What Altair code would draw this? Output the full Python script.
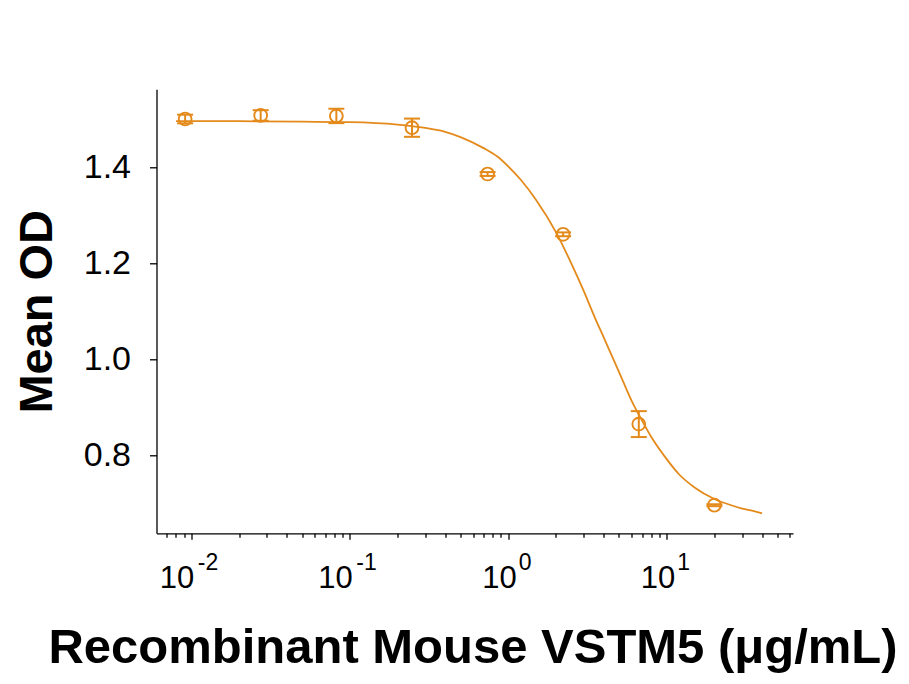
import altair as alt
import pandas as pd

# Measured points (3-fold dilution series)
conc = [0.00914, 0.0274, 0.0823, 0.247, 0.741, 2.22, 6.67, 20.0]
mean_od = [1.5006, 1.508, 1.507, 1.4825, 1.386, 1.2604, 0.865, 0.696]
err_od = [0.009, 0.011, 0.015, 0.019, 0.004, 0.004, 0.027, 0.002]

# Fitted curve
fit_conc = [0.008, 0.01, 0.02, 0.05, 0.1, 0.2, 0.3, 0.4, 0.5, 0.7, 0.85, 1.0, 1.2, 1.5,
            2.0, 2.5, 3.0, 3.5, 4.0, 5.0, 6.0, 7.0, 8.0, 10.0, 12.0, 15.0, 20.0,
            25.0, 30.0, 35.0, 40.0]
fit_od = [1.496, 1.496, 1.496, 1.495, 1.494, 1.489, 1.482, 1.474, 1.463, 1.440, 1.423,
          1.402, 1.374, 1.332, 1.265, 1.200, 1.142, 1.089, 1.046, 0.974, 0.914, 0.872,
          0.838, 0.792, 0.760, 0.733, 0.709, 0.697, 0.689, 0.684, 0.679]

# Axis ticks / labels
major_ticks = [0.01, 0.1, 1, 10]
minor_ticks = [0.007, 0.008, 0.009,
               0.02, 0.03, 0.04, 0.05, 0.06, 0.07, 0.08, 0.09,
               0.2, 0.3, 0.4, 0.5, 0.6, 0.7, 0.8, 0.9,
               2, 3, 4, 5, 6, 7, 8, 9,
               20, 30, 40, 50, 60]
label_base = ["10", "10", "10", "10"]
label_exp = ["-2", "-1", "0", "1"]
label_power = [-2, -1, 0, 1]
y_ticks = [0.8, 1.0, 1.2, 1.4]

COLOR = "#E48A1B"
FONT = "Liberation Sans"

pts = pd.DataFrame({"conc": conc, "od": mean_od, "err": err_od})
fit = pd.DataFrame({"conc": fit_conc, "od": fit_od})
labels = pd.DataFrame({"conc": major_ticks, "base": label_base,
                       "exp": label_exp, "power": label_power})

xscale = alt.Scale(type="log", domain=[0.00603, 62.7], nice=False)
yscale = alt.Scale(domain=[0.6375, 1.5625], nice=False, zero=False)

major_test = "abs(log(datum.value)/LN10 - round(log(datum.value)/LN10)) < 0.001"

xaxis = alt.Axis(
    values=sorted(major_ticks + minor_ticks),
    labels=False,
    grid=False,
    tickSize={"condition": {"test": major_test, "value": 6}, "value": 4},
    tickColor="black", tickWidth=1.3,
    domainColor="black", domainWidth=1.3,
    title="Recombinant Mouse VSTM5 (μg/mL)",
    titleFont=FONT, titleFontSize=49, titleFontWeight="bold", titleColor="black",
    titleX=316, titleY=129, titleBaseline="alphabetic", titleAlign="center",
)
yaxis = alt.Axis(
    values=y_ticks, format=".1f", grid=False,
    tickSize=7, tickColor="black", tickWidth=1.3,
    domainColor="black", domainWidth=1.3,
    labelFont=FONT, labelFontSize=34, labelColor="black", labelPadding=19,
    title="Mean OD",
    titleFont=FONT, titleFontSize=47, titleFontWeight="bold", titleColor="black",
    titleX=-105, titleY=222, titleBaseline="alphabetic", titleAlign="center", titleAngle=-90,
)

base_pts = alt.Chart(pts)

curve = alt.Chart(fit).mark_line(color=COLOR, strokeWidth=1.8, interpolate="monotone").encode(
    x=alt.X("conc:Q", scale=xscale, axis=xaxis),
    y=alt.Y("od:Q", scale=yscale, axis=yaxis),
)

bars = base_pts.transform_calculate(
    lo="datum.od - datum.err", hi="datum.od + datum.err"
).mark_rule(color=COLOR, strokeWidth=2).encode(
    x=alt.X("conc:Q", scale=xscale),
    y=alt.Y("lo:Q", scale=yscale),
    y2="hi:Q",
)

caps_lo = base_pts.transform_calculate(v="datum.od - datum.err").mark_point(
    shape="M-1,0L1,0", size=256, stroke=COLOR, strokeWidth=2, filled=False, opacity=1
).encode(x=alt.X("conc:Q", scale=xscale), y=alt.Y("v:Q", scale=yscale))

caps_hi = base_pts.transform_calculate(v="datum.od + datum.err").mark_point(
    shape="M-1,0L1,0", size=256, stroke=COLOR, strokeWidth=2, filled=False, opacity=1
).encode(x=alt.X("conc:Q", scale=xscale), y=alt.Y("v:Q", scale=yscale))

circles = base_pts.mark_point(
    shape="circle", size=164, filled=False, stroke=COLOR, strokeWidth=1.9, opacity=1
).encode(x=alt.X("conc:Q", scale=xscale), y=alt.Y("od:Q", scale=yscale))

lab = alt.Chart(labels)
neg_base = lab.transform_filter("datum.power < 0").mark_text(
    align="right", baseline="alphabetic", dx=3, fontSize=31, font=FONT, color="black"
).encode(x=alt.X("conc:Q", scale=xscale), y=alt.value(498.7), text="base:N")
neg_exp = lab.transform_filter("datum.power < 0").mark_text(
    align="left", baseline="alphabetic", dx=6.5, fontSize=23, font=FONT, color="black"
).encode(x=alt.X("conc:Q", scale=xscale), y=alt.value(481.2), text="exp:N")
pos_base = lab.transform_filter("datum.power >= 0").mark_text(
    align="right", baseline="alphabetic", dx=8.5, fontSize=31, font=FONT, color="black"
).encode(x=alt.X("conc:Q", scale=xscale), y=alt.value(498.7), text="base:N")
pos_exp = lab.transform_filter("datum.power >= 0").mark_text(
    align="left", baseline="alphabetic", dx=10.5, fontSize=23, font=FONT, color="black"
).encode(x=alt.X("conc:Q", scale=xscale), y=alt.value(481.2), text="exp:N")

chart = alt.layer(
    curve, bars, caps_lo, caps_hi, circles, neg_base, neg_exp, pos_base, pos_exp
).properties(
    width=636.5, height=444,
    autosize=alt.AutoSizeParams(type="none"),
    padding={"left": 148.5, "top": 81.3, "right": 107, "bottom": 140},
    background="white",
).configure_view(stroke=None)

chart.save("out.html", embed_options={"renderer": "svg", "actions": False})
